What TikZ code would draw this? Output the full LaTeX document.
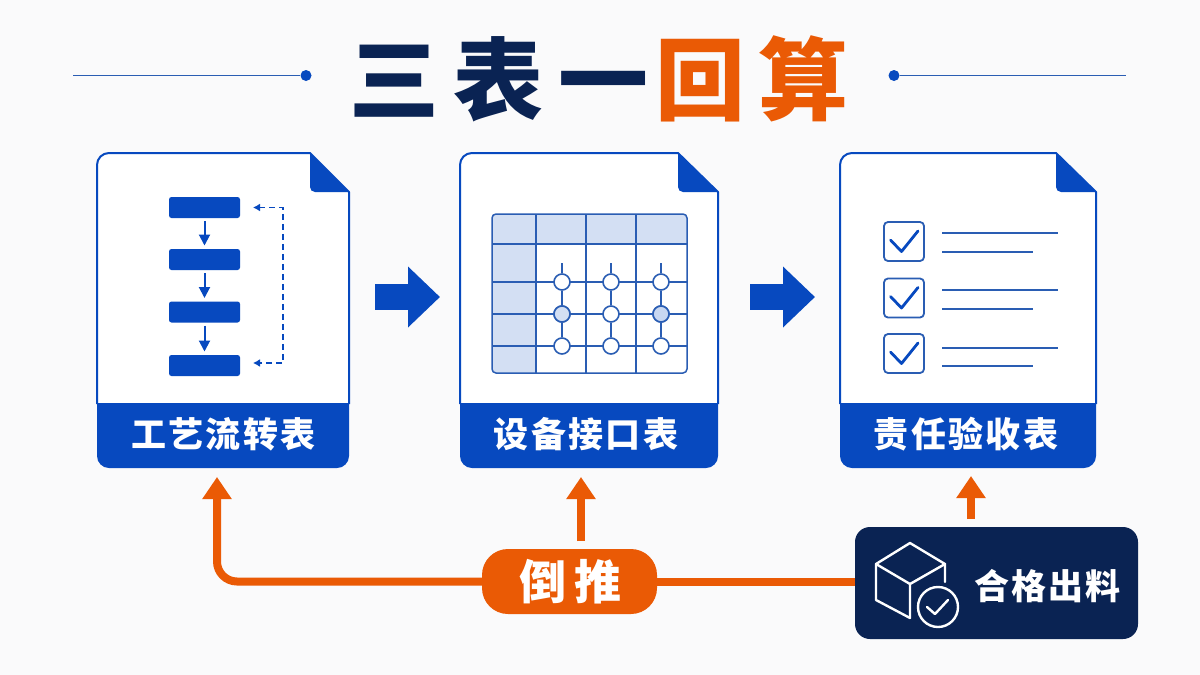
\documentclass[tikz,border=0pt]{standalone}
\usepackage{fontspec}
\usetikzlibrary{arrows.meta,calc}
\newfontfamily\cjk{Noto Sans CJK SC}
\newfontfamily\cjkblack{Noto Sans CJK SC Black}
\definecolor{bg}{HTML}{FAFAFB}
\definecolor{brand}{HTML}{0749BF}
\definecolor{navy}{HTML}{0A2353}
\definecolor{hot}{HTML}{EA5A05}
\definecolor{tint}{HTML}{D3DFF3}
\definecolor{rule}{HTML}{2A5DB3}
\tikzset{
  hollow/.style={inner sep=0pt,outer sep=0pt,draw=none},
  flowbox/.style={hollow,fill=brand,rounded corners=2.5pt,minimum width=71pt,minimum height=21pt},
  flowarrow/.style={draw=brand,line width=2pt,-{Triangle[length=11pt,width=11pt]}},
  loopline/.style={draw=brand,line width=1.5pt,dash pattern=on 6pt off 4pt,{Latex[length=7pt,width=8pt]}-{Latex[length=7pt,width=8pt]}},
  blockarrow/.style={draw=brand,line width=26pt,-{Triangle[length=32pt,width=59pt]}},
  hotarrow/.style={draw=hot,line width=8pt,rounded corners=20pt,-{Triangle[length=22pt,width=28pt]}},
  hotline/.style={draw=hot,line width=8pt},
  cardlabel/.style={text=white,font=\cjk\bfseries\fontsize{35}{38}\selectfont\addfontfeature{LetterSpace=6.5},inner sep=0pt},
  gridline/.style={draw=rule,line width=1.5pt},
  portnode/.style={circle,draw=rule,line width=1.6pt,fill=white,minimum size=16pt,inner sep=0pt},
  tickbox/.style={hollow,draw=rule,line width=1.8pt,rounded corners=4pt,minimum width=40pt,minimum height=39pt},
  rowline/.style={draw=rule,line width=1.6pt},
  icon/.style={draw=white,line width=2.4pt,line join=round,line cap=round},
  titledot/.style={circle,fill=brand,minimum size=11pt,inner sep=0pt,draw=none},
  titleline/.style={draw=rule,line width=1.5pt},
  titletextA/.style={inner sep=0pt,font=\cjkblack\fontsize{90}{96}\selectfont\addfontfeature{LetterSpace=16}},
  titletextB/.style={inner sep=0pt,font=\cjkblack\fontsize{90}{96}\selectfont\addfontfeature{LetterSpace=14}},
}
\newcommand{\filecard}[6]{% name, left, right, foldx, label, label x
  \node[hollow,minimum width={(#3-#2)*1pt},minimum height=315pt] (#1) at ({(#2+#3)/2},310.5) {};
  \fill[white,rounded corners=12pt] (#2,404) -- (#2,153) [sharp corners] -- (#4,153) -- (#3,192) -- (#3,404) -- cycle;
  \draw[brand,line width=2pt,line join=round,rounded corners=12pt] (#2,404) -- (#2,153) [sharp corners] -- (#4,153) -- (#3,192) -- (#3,404);
  \fill[brand,rounded corners=12pt] (#2,403) [sharp corners] -- (#3,403) [rounded corners=12pt] -- (#3,468) -- (#2,468) [sharp corners] -- (#2,403) -- cycle;
  \fill[brand,rounded corners=5pt] (#4,153) -- (#4,192) [sharp corners] -- (#3,192) -- cycle;
  \node[cardlabel] (#1label) at (#6,434) {#5};
}
\begin{document}
\begin{tikzpicture}[x=1pt,y=-1pt]
\useasboundingbox (0,0) rectangle (1200,675);
\fill[bg] (0,0) rectangle (1200,675);

% title
\node[titledot] (dotl) at (306,75.5) {};
\node[titledot] (dotr) at (894,75.5) {};
\coordinate (endl) at (73,75.5);
\coordinate (endr) at (1126,75.5);
\draw[titleline] (endl) -- (dotl);
\draw[titleline] (dotr) -- (endr);
\node[titletextA,text=navy] (titlea) at (499,79) {三表一};
\node[titletextB,text=hot] (titleb) at (752,79) {回算};

% cards
\filecard{cardA}{97}{349}{310}{工艺流转表}{223.5}
\filecard{cardB}{460}{718}{678}{设备接口表}{586}
\filecard{cardC}{840}{1096}{1056}{责任验收表}{966}

% flow
\node[flowbox] (f1) at (204.5,207.5) {};
\node[flowbox] (f2) at (204.5,259.5) {};
\node[flowbox] (f3) at (204.5,312) {};
\node[flowbox] (f4) at (204.5,365.5) {};
\draw[flowarrow,shorten <=3pt,shorten >=3.5pt] (f1) -- (f2);
\draw[flowarrow,shorten <=3pt,shorten >=3.5pt] (f2) -- (f3);
\draw[flowarrow,shorten <=3pt,shorten >=3.5pt] (f3) -- (f4);
\coordinate (la) at ([xshift=13pt]f1.east);
\coordinate (lb) at ([xshift=13pt,yshift=2.5pt]f4.east);
\draw[loopline] (la) -- (283,207.5) -- (283,363) -- (lb);

% table
\begin{scope}
\clip[rounded corners=4pt] (492,214) rectangle (687,373);
\fill[tint] (492,214) rectangle (687,244);
\fill[tint] (492,214) rectangle (536,373);
\end{scope}
\draw[gridline,rounded corners=4pt] (492,214) rectangle (687,373);
\draw[gridline] (536,214) -- (536,373) (586,214) -- (586,373) (636,214) -- (636,373);
\draw[gridline] (492,244) -- (687,244) (492,282) -- (687,282) (492,314) -- (687,314) (492,346) -- (687,346);
\foreach \cx/\n in {562/a,611/b,661/c}{
  \coordinate (stub\n) at (\cx,263);
  \node[portnode] (p\n1) at (\cx,282) {};
  \node[portnode] (p\n2) at (\cx,314) {};
  \node[portnode] (p\n3) at (\cx,346) {};
  \draw[gridline] (stub\n) -- (p\n1) (p\n1) -- (p\n2) (p\n2) -- (p\n3);
}
\node[portnode,fill=tint] at (pa2) {};
\node[portnode,fill=brand!22] at (pc2) {};

% checklist
\foreach \i/\cy/\la/\lb in {1/241.5/233/252,2/298/290/309,3/353.5/348/366}{
  \node[tickbox] (tick\i) at (904,\cy) {};
  \draw[draw=brand,line width=2.8pt,line cap=round,line join=round] (890.5,\cy-1.5) -- (901.5,\cy+10) -- (918,\cy-10.5);
  \draw[rowline] (942,\la) -- (1058,\la);
  \draw[rowline] (942,\lb) -- (1033,\lb);
}

% blue arrows
\draw[blockarrow] ([shift={(26pt,13.5pt)}]cardA.east) -- ([shift={(-20pt,13.5pt)}]cardB.west);
\draw[blockarrow] ([shift={(32pt,13.5pt)}]cardB.east) -- ([shift={(-25pt,13.5pt)}]cardC.west);

% bottom
\node[hollow,fill=navy,rounded corners=15pt,minimum width=283pt,minimum height=112pt] (good) at (996.5,583) {};
\node[hollow,fill=hot,rounded corners=26pt,minimum width=175pt,minimum height=65pt] (pill) at (569.5,581.5) {};
\node[text=white,inner sep=0pt,font=\cjk\bfseries\fontsize{47}{50}\selectfont\addfontfeature{LetterSpace=18}] (pilltext) at (570.5,581.5) {倒推};
\draw[hotline] (pill.east) -- (good.west |- pill.east);
\draw[hotarrow] (pill.west) -| ([shift={(-6pt,-9pt)}]cardA.south);
\draw[hotarrow,rounded corners=0pt] ([shift={(11.5pt,8pt)}]pill.north) -- ([shift={(-8pt,-9pt)}]cardB.south);
\draw[hotarrow,rounded corners=0pt] ([xshift=-25.5pt,yshift=8pt]good.north) -- ([shift={(3pt,-8pt)}]cardC.south);
\node[text=white,inner sep=0pt,font=\cjk\bfseries\fontsize{35}{38}\selectfont\addfontfeature{LetterSpace=6.5}] (goodtext) at (1047.5,586) {合格出料};
\draw[icon] (945,582) -- (945,564) -- (910,543) -- (876,564) -- (876,600) -- (910,618);
\draw[icon] (876,564) -- (910,584) -- (945,564) (910,584) -- (910,618);
\node[circle,draw=white,line width=2.4pt,fill=navy,minimum size=40pt,inner sep=0pt] (seal) at (938,607) {};
\draw[icon] (927,607) -- (935,614) -- (948,600);
\end{tikzpicture}
\end{document}
